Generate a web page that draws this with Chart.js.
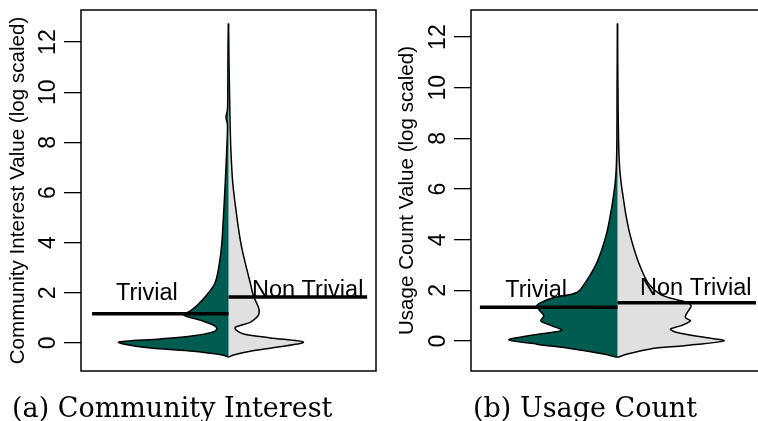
<!DOCTYPE html>
<html>
<head>
<meta charset="utf-8">
<script src="https://cdn.jsdelivr.net/npm/chart.js@4.4.1/dist/chart.umd.min.js"></script>
<style>
  html, body { margin: 0; padding: 0; background: #fff; overflow: hidden; }
  #wrap { position: relative; width: 758px; height: 421px; overflow: hidden; }
  #ci { position: absolute; left: 0; top: 0; }
  #uc { position: absolute; left: 380px; top: 0; }
</style>
</head>
<body>
<div id="wrap">
  <canvas id="ci" width="380" height="421"></canvas>
  <canvas id="uc" width="400" height="421"></canvas>
</div>
<script>
// groups shown in each bean plot
const groups = ['Trivial', 'Non Trivial'];

// (a) Community Interest - log value and half-width of the density
const ciTrivialY    = [-0.57, -0.5, -0.44, -0.33, -0.17, 0.03, 0.16, 0.29, 0.42, 0.56, 0.7, 0.89, 1.12, 1.28, 1.55, 1.95, 2.41, 3.2, 4.0, 5.06, 6.4, 7.7, 8.7, 9.0, 9.3, 10, 11, 12, 12.74];
const ciTrivialDens = [0, 0.027, 0.079, 0.237, 0.576, 0.746, 0.461, 0.237, 0.115, 0.079, 0.10, 0.183, 0.305, 0.258, 0.203, 0.142, 0.090, 0.061, 0.045, 0.034, 0.022, 0.012, 0.007, 0.017, 0.007, 0.005, 0.004, 0.003, 0];
const ciNonTrivialY    = [-0.57, -0.48, -0.33, -0.17, 0.03, 0.2, 0.36, 0.5, 0.62, 0.82, 1.05, 1.22, 1.42, 1.88, 2.41, 3.2, 4.0, 5.06, 6.38, 7.71, 9, 10, 11, 12, 12.74];
const ciNonTrivialDens = [0, 0.034, 0.147, 0.325, 0.508, 0.283, 0.102, 0.054, 0.045, 0.147, 0.197, 0.208, 0.203, 0.169, 0.147, 0.113, 0.083, 0.056, 0.029, 0.016, 0.010, 0.007, 0.004, 0.002, 0];
const ciMedians = [1.16, 1.83];

// (b) Usage Count
const ucTrivialY    = [-0.64, -0.51, -0.31, -0.12, 0.05, 0.18, 0.3, 0.43, 0.62, 0.8, 1.0, 1.2, 1.39, 1.52, 1.72, 1.92, 2.31, 2.96, 3.62, 4.28, 4.93, 5.59, 6.24, 6.9, 8, 10, 12.54];
const ucTrivialDens = [0, 0.095, 0.299, 0.551, 0.741, 0.64, 0.505, 0.38, 0.456, 0.524, 0.503, 0.53, 0.551, 0.524, 0.435, 0.277, 0.220, 0.152, 0.107, 0.073, 0.050, 0.031, 0.016, 0.008, 0.004, 0.003, 0];
const ucNonTrivialY    = [-0.64, -0.51, -0.31, -0.18, 0.01, 0.15, 0.34, 0.47, 0.6, 0.8, 0.93, 1.13, 1.39, 1.55, 1.68, 1.85, 2.28, 2.96, 3.62, 4.28, 4.93, 5.59, 6.24, 6.9, 8, 10, 12.54];
const ucNonTrivialDens = [0, 0.068, 0.224, 0.456, 0.728, 0.592, 0.408, 0.361, 0.429, 0.497, 0.463, 0.476, 0.503, 0.463, 0.37, 0.29, 0.211, 0.154, 0.114, 0.082, 0.059, 0.041, 0.025, 0.014, 0.007, 0.003, 0];
const ucMedians = [1.34, 1.51];

const GREEN = '#005c50';
const GRAY = '#e0e0e0';
const SANS = '"Liberation Sans", Arial, Helvetica, sans-serif';

function halfViolin(ys, dens, side) {
  return ys.map((y, i) => ({ x: side * dens[i], y: y }));
}

// box, rotated tick labels, group names and caption (R beanplot look)
const decor = {
  id: 'decor',
  afterDraw(chart, args, opts) {
    const ctx = chart.ctx;
    const a = chart.chartArea;
    const xs = chart.scales.x, ys = chart.scales.y;
    ctx.save();
    ctx.fillStyle = '#000';

    ctx.font = '23.5px ' + SANS;
    ctx.textBaseline = 'alphabetic';
    opts.labels.forEach(l => {
      ctx.textAlign = l.align;
      ctx.fillText(l.text, xs.getPixelForValue(l.x), ys.getPixelForValue(l.y));
    });

    ctx.strokeStyle = '#000';
    ctx.lineWidth = 1.5;
    ctx.strokeRect(a.left, a.top, a.right - a.left, a.bottom - a.top);

    ctx.font = '23px ' + SANS;
    ctx.textAlign = 'center';
    ctx.textBaseline = 'middle';
    ys.ticks.forEach(t => {
      ctx.save();
      ctx.translate(a.left - 32, ys.getPixelForValue(t.value));
      ctx.rotate(-Math.PI / 2);
      ctx.fillText(String(t.value), 0, 0);
      ctx.restore();
    });

    ctx.font = '27px "DejaVu Serif", serif';
    ctx.textAlign = 'left';
    ctx.textBaseline = 'alphabetic';
    ctx.fillText(opts.caption, opts.captionX, 417);
    ctx.restore();
  }
};

function makePanel(id, p) {
  const lineDs = (pts) => ({
    data: pts, showLine: true, fill: false, borderColor: '#000', borderWidth: 3.5,
    pointRadius: 0, pointHoverRadius: 0, order: 0
  });
  const beanDs = (pts, color) => ({
    data: pts, showLine: true, fill: 'shape', backgroundColor: color, borderColor: '#000',
    borderWidth: 1.5, tension: 0.3, pointRadius: 0, pointHoverRadius: 0, order: 1
  });
  new Chart(document.getElementById(id), {
    type: 'scatter',
    data: {
      datasets: [
        lineDs([{ x: p.medLeft, y: p.medians[0] }, { x: 0, y: p.medians[0] }]),
        lineDs([{ x: 0, y: p.medians[1] }, { x: p.medRight, y: p.medians[1] }]),
        beanDs(halfViolin(p.trivY, p.trivD, -1), GREEN),
        beanDs(halfViolin(p.nonY, p.nonD, 1), GRAY)
      ]
    },
    options: {
      responsive: false,
      animation: false,
      events: [],
      layout: { padding: { top: 10, bottom: 50, left: 0, right: p.padRight } },
      plugins: {
        legend: { display: false },
        tooltip: { enabled: false },
        decor: { labels: p.labels, caption: p.caption, captionX: p.captionX }
      },
      scales: {
        x: { type: 'linear', min: -1, max: 1, display: false },
        y: {
          min: p.yMin, max: p.yMax,
          afterFit(scale) { scale.width = p.axisWidth; },
          ticks: { display: false, stepSize: 2, includeBounds: false },
          grid: { drawOnChartArea: false, drawTicks: true, tickLength: 17, color: '#000', lineWidth: 1.3 },
          border: { display: false },
          title: {
            display: true, text: p.title, color: '#000',
            font: { family: SANS, size: 20.6 },
            padding: { top: p.titlePad, bottom: 0 }
          }
        }
      }
    },
    plugins: [decor]
  });
}

makePanel('ci', {
  title: 'Community Interest Value (log scaled)',
  caption: '(a) Community Interest', captionX: 12,
  yMin: -1.12, yMax: 13.28, axisWidth: 81, padRight: 4, titlePad: 6,
  trivY: ciTrivialY, trivD: ciTrivialDens, nonY: ciNonTrivialY, nonD: ciNonTrivialDens,
  medians: ciMedians, medLeft: -0.925, medRight: 0.94,
  labels: [
    { text: groups[0], x: -0.553, y: 1.71, align: 'center' },
    { text: groups[1], x: 0.159, y: 1.85, align: 'left' }
  ]
});

makePanel('uc', {
  title: 'Usage Count Value (log scaled)',
  caption: '(b) Usage Count', captionX: 93,
  yMin: -1.18, yMax: 13.07, axisWidth: 91, padRight: 16, titlePad: 15,
  trivY: ucTrivialY, trivD: ucTrivialDens, nonY: ucNonTrivialY, nonD: ucNonTrivialDens,
  medians: ucMedians, medLeft: -0.939, medRight: 0.945,
  labels: [
    { text: groups[0], x: -0.556, y: 1.75, align: 'center' },
    { text: groups[1], x: 0.154, y: 1.82, align: 'left' }
  ]
});
</script>
</body>
</html>
